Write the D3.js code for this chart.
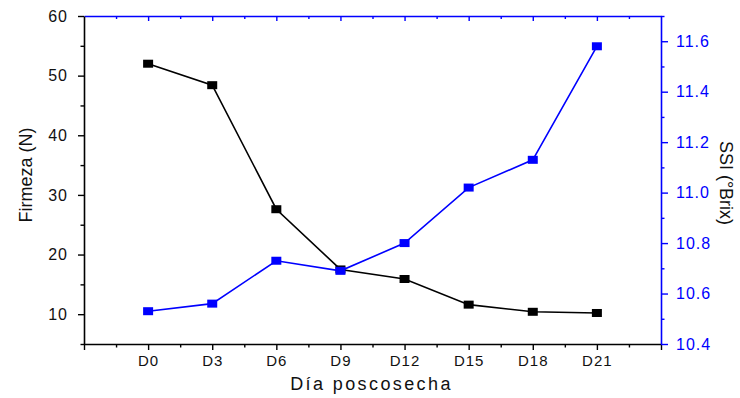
<!DOCTYPE html>
<html>
<head>
<meta charset="utf-8">
<script src="https://cdn.jsdelivr.net/npm/d3@7"></script>
<style>
  html, body { margin: 0; padding: 0; background: #fff; }
  svg { display: block; }
  text { font-family: "Liberation Sans", Arial, sans-serif; }
</style>
</head>
<body>
<div id="chart"></div>
<script>
// Firmeza vs SSI over postharvest days

var days     = ['D0', 'D3', 'D6', 'D9', 'D12', 'D15', 'D18', 'D21'];
var firmeza  = [52.0, 48.4, 27.6, 17.5, 15.9, 11.6, 10.4, 10.2];
var ssi      = [10.53, 10.56, 10.73, 10.69, 10.80, 11.02, 11.13, 11.58];
var leftTicks  = [10, 20, 30, 40, 50, 60];
var rightTicks = [10.4, 10.6, 10.8, 11.0, 11.2, 11.4, 11.6];

var W = 740, H = 398;
var L = 84, R = 661, T = 16, B = 344;
var BLUE = '#0000ff';

var svg = d3.select('#chart').append('svg').attr('width', W).attr('height', H);

var x  = d3.scaleLinear().domain([-1, days.length]).range([L, R]);
var yL = d3.scaleLinear().domain([5, 60]).range([B, T]);
var yR = d3.scaleLinear().domain([10.4, 11.7]).range([B, T]);

var majorX = d3.range(-1, days.length + 1);
var minorX = majorX.slice(0, -1).map(function(v) { return v + 0.5; });

function styleAxis(g, color, fs) {
  g.select('.domain').attr('stroke', color).attr('stroke-width', 1.6);
  g.selectAll('.tick line').attr('stroke', color).attr('stroke-width', 1.4);
  g.selectAll('.tick text').attr('fill', color)
    .style('font-size', fs + 'px').style('letter-spacing', '1px');
}

// ── Bottom axis ─────────────────────────────────────────────────────────────
svg.append('g').attr('transform', 'translate(0,' + B + ')')
  .call(d3.axisBottom(x).tickValues(minorX).tickSize(3.5).tickFormat(''))
  .call(function(g) { styleAxis(g, '#000', 15); g.select('.domain').remove(); });

svg.append('g').attr('transform', 'translate(0,' + B + ')')
  .call(d3.axisBottom(x).tickValues(majorX).tickSize(6).tickSizeOuter(0).tickPadding(5)
    .tickFormat(function(v) { return days[v] || ''; }))
  .call(function(g) { styleAxis(g, '#000', 15); g.selectAll('.tick text').attr('fill', '#111'); });

// ── Top axis (blue, inward ticks) ───────────────────────────────────────────
svg.append('g').attr('transform', 'translate(0,' + T + ')')
  .call(d3.axisBottom(x).tickValues(minorX).tickSize(3).tickFormat(''))
  .call(function(g) { styleAxis(g, BLUE, 15); g.select('.domain').remove(); });

svg.append('g').attr('transform', 'translate(0,' + T + ')')
  .call(d3.axisBottom(x).tickValues(majorX.slice(1, -1)).tickSize(5).tickSizeOuter(0).tickFormat(''))
  .call(function(g) { styleAxis(g, BLUE, 15); });

// ── Left axis ───────────────────────────────────────────────────────────────
svg.append('g').attr('transform', 'translate(' + L + ',0)')
  .call(d3.axisLeft(yL).tickValues([5, 15, 25, 35, 45, 55]).tickSize(3.5).tickFormat(''))
  .call(function(g) { styleAxis(g, '#000', 15); g.select('.domain').remove(); });

svg.append('g').attr('transform', 'translate(' + L + ',0)')
  .call(d3.axisLeft(yL).tickValues(leftTicks).tickSize(6).tickSizeOuter(0).tickPadding(10)
    .tickFormat(d3.format('d')))
  .call(function(g) { styleAxis(g, '#000', 16); g.selectAll('.tick text').attr('fill', '#111'); });

// ── Right axis (blue) ───────────────────────────────────────────────────────
var rightMinor = [10.5, 10.7, 10.9, 11.1, 11.3, 11.5, 11.7];
svg.append('g').attr('transform', 'translate(' + R + ',0)')
  .call(d3.axisRight(yR).tickValues(rightMinor).tickSize(3.5).tickFormat(''))
  .call(function(g) { styleAxis(g, BLUE, 15); g.select('.domain').remove(); });

svg.append('g').attr('transform', 'translate(' + R + ',0)')
  .call(d3.axisRight(yR).tickValues(rightTicks).tickSize(7).tickSizeOuter(0).tickPadding(8)
    .tickFormat(d3.format('.1f')))
  .call(function(g) { styleAxis(g, BLUE, 16); });

// ── Titles ──────────────────────────────────────────────────────────────────
svg.append('text').attr('x', (L + R) / 2 - 1).attr('y', 390)
  .attr('text-anchor', 'middle').attr('fill', '#111').style('font-size', '18px')
  .style('letter-spacing', '2.4px').text('Día poscosecha');

svg.append('text').attr('transform', 'translate(32,175) rotate(-90)')
  .attr('text-anchor', 'middle').attr('fill', '#111').style('font-size', '18px')
  .text('Firmeza (N)');

svg.append('text').attr('transform', 'translate(720,183) rotate(90)')
  .attr('text-anchor', 'middle').attr('fill', '#111').style('font-size', '18px')
  .text('SSI (°Brix)');

// ── Series ──────────────────────────────────────────────────────────────────
function drawSeries(vals, y, color) {
  var pts = vals.map(function(v, i) { return [x(i), y(v)]; });
  svg.append('path').attr('d', d3.line()(pts))
    .attr('fill', 'none').attr('stroke', color).attr('stroke-width', 1.6);
  svg.append('g').selectAll('rect').data(pts).enter().append('rect')
    .attr('x', function(d) { return d[0] - 5; })
    .attr('y', function(d) { return d[1] - 4; })
    .attr('width', 10).attr('height', 8)
    .attr('fill', color);
}

drawSeries(firmeza, yL, '#000');
drawSeries(ssi, yR, BLUE);
</script>
</body>
</html>
